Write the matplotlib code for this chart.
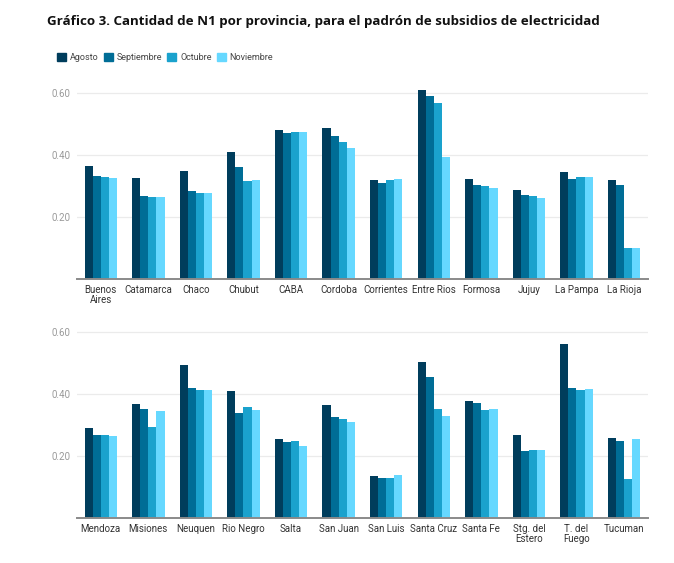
import matplotlib.pyplot as plt
from matplotlib.patches import Patch
import numpy as np

plt.rcParams['font.family'] = ['Roboto', 'DejaVu Sans']

months = ['Agosto', 'Septiembre', 'Octubre', 'Noviembre']
colors = ['#003d5c', '#006d96', '#1aa2cd', '#66d8ff']

# Top panel
prov_top = ['Buenos\nAires', 'Catamarca', 'Chaco', 'Chubut', 'CABA', 'Cordoba',
            'Corrientes', 'Entre Rios', 'Formosa', 'Jujuy', 'La Pampa', 'La Rioja']
ago_top = [0.365, 0.325, 0.349, 0.410, 0.481, 0.488, 0.319, 0.609, 0.323, 0.286, 0.344, 0.318]
sep_top = [0.332, 0.269, 0.283, 0.361, 0.470, 0.460, 0.309, 0.590, 0.302, 0.271, 0.323, 0.302]
oct_top = [0.329, 0.263, 0.277, 0.316, 0.475, 0.443, 0.318, 0.568, 0.299, 0.267, 0.328, 0.099]
nov_top = [0.327, 0.263, 0.277, 0.319, 0.475, 0.423, 0.322, 0.395, 0.295, 0.261, 0.329, 0.099]

# Bottom panel
prov_bot = ['Mendoza', 'Misiones', 'Neuquen', 'Rio Negro', 'Salta', 'San Juan',
            'San Luis', 'Santa Cruz', 'Santa Fe', 'Stg. del\nEstero', 'T. del\nFuego', 'Tucuman']
ago_bot = [0.291, 0.367, 0.495, 0.410, 0.255, 0.363, 0.134, 0.503, 0.377, 0.267, 0.561, 0.258]
sep_bot = [0.268, 0.351, 0.419, 0.340, 0.244, 0.325, 0.129, 0.454, 0.370, 0.215, 0.418, 0.249]
oct_bot = [0.268, 0.294, 0.414, 0.359, 0.247, 0.318, 0.130, 0.351, 0.349, 0.220, 0.413, 0.126]
nov_bot = [0.265, 0.345, 0.414, 0.348, 0.233, 0.309, 0.139, 0.330, 0.352, 0.220, 0.415, 0.255]

fig = plt.figure(figsize=(6.74, 5.63), dpi=100)
ax1 = fig.add_axes([0.1142, 0.5044, 0.847, 0.3414])
ax2 = fig.add_axes([0.1142, 0.0799, 0.847, 0.3414])


def draw(ax, labels, series):
    x = np.arange(len(labels))
    w = 0.17
    for i, vals in enumerate(series):
        ax.bar(x + (i - 1.5) * w, vals, width=w, color=colors[i], clip_on=False, zorder=3)
    ax.set_xlim(-0.5, len(labels) - 0.5)
    ax.set_ylim(0, 0.62)
    ax.set_yticks([0.2, 0.4, 0.6])
    ax.set_yticklabels(['0.20', '0.40', '0.60'])
    ax.set_xticks(x)
    ax.set_xticklabels(labels, fontsize=7, color='#333333', linespacing=1.05)
    ax.tick_params(axis='y', length=0, labelsize=7, labelcolor='#9a9a9a', pad=5)
    ax.tick_params(axis='x', length=0, pad=4)
    ax.grid(axis='y', color='#ebebeb', linewidth=0.9, zorder=0)
    for s in ['top', 'right', 'left']:
        ax.spines[s].set_visible(False)
    ax.spines['bottom'].set_color('#8a8a8a')
    ax.spines['bottom'].set_linewidth(1.4)
    ax.spines['bottom'].set_zorder(4)


draw(ax1, prov_top, [ago_top, sep_top, oct_top, nov_top])
draw(ax2, prov_bot, [ago_bot, sep_bot, oct_bot, nov_bot])

fig.text(0.070, 0.961, 'Gráfico 3. Cantidad de N1 por provincia, para el padrón de subsidios de electricidad',
         fontsize=9.6, fontweight='bold', color='#111111', va='center',
         family=['Open Sans', 'DejaVu Sans'])

handles = [Patch(color=c, label=m) for c, m in zip(colors, months)]
fig.legend(handles=handles, loc='center left', bbox_to_anchor=(0.0846, 0.898), ncol=4,
           frameon=False, fontsize=6.5, handlelength=1.0, handleheight=1.0,
           handletextpad=0.4, columnspacing=0.6, borderaxespad=0, borderpad=0,
           labelcolor='#444444')

fig.savefig('out.png', dpi=100, facecolor='white')
